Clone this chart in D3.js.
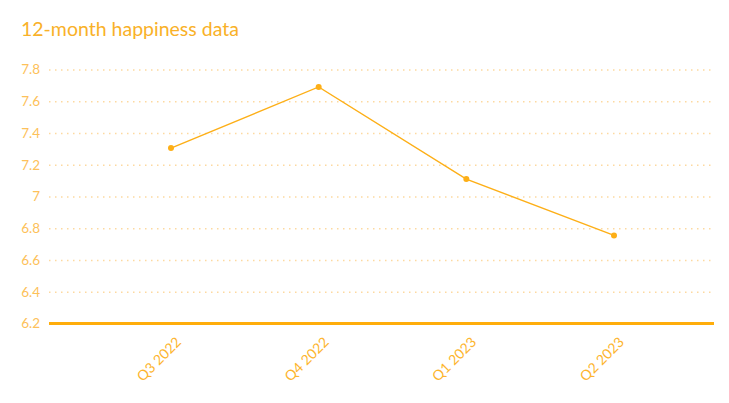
<!DOCTYPE html>
<html><head><meta charset="utf-8">
<script src="https://cdn.jsdelivr.net/npm/d3@7/dist/d3.min.js"></script>
<style>body{margin:0;background:#fff;} text{font-family:Lato,"Open Sans",sans-serif;}</style>
</head><body><div id="chart"></div>
<script>
const categories = ["Q3 2022","Q4 2022","Q1 2023","Q2 2023"];
const values = [7.305, 7.69, 7.11, 6.755];
const yTicks = [6.2,6.4,6.6,6.8,7,7.2,7.4,7.6,7.8];
const title = "12-month happiness data";

const W = 729, H = 403;
const svg = d3.select("#chart").append("svg").attr("width", W).attr("height", H);
const plotL = 49, plotR = 715;
const y = d3.scaleLinear().domain([6.2, 7.8]).range([323.5, 69.5]);
const x = d3.scalePoint().domain(categories).range([171, 614]);

svg.append("text").attr("x", 21).attr("y", 36).attr("fill", "#F9B128")
  .attr("font-size", 19.5).text(title);

const yAxis = svg.append("g").attr("transform", `translate(${plotL},0)`)
  .call(d3.axisLeft(y).tickValues(yTicks).tickSize(-(plotR - plotL)).tickFormat(d3.format("~g")).tickPadding(9));
yAxis.select(".domain").remove();
yAxis.selectAll(".tick line").attr("stroke", "#FDD9A0").attr("stroke-dasharray", "1.5,4.5").attr("stroke-width", 1.5);
yAxis.selectAll(".tick text").attr("fill", "#FDC15A").attr("font-size", 13.5);
yAxis.selectAll(".tick").filter(d => d === 6.2).select("line").remove();

svg.append("line").attr("x1", 49).attr("x2", 714).attr("y1", y(6.2)).attr("y2", y(6.2))
  .attr("stroke", "#FFAD0A").attr("stroke-width", 3);

const xAxis = svg.append("g").attr("transform", `translate(0,${y(6.2)})`)
  .call(d3.axisBottom(x).tickSize(0).tickPadding(0));
xAxis.select(".domain").remove();
xAxis.selectAll(".tick text").attr("fill", "#FDB52E").attr("font-size", 14)
  .attr("text-anchor", "end").attr("dy", "0.35em").attr("y", 0)
  .attr("transform", "translate(7,16) rotate(-45)");

svg.append("path").datum(values)
  .attr("fill", "none").attr("stroke", "#FDAF17").attr("stroke-width", 1.4)
  .attr("d", d3.line().x((d, i) => x(categories[i])).y(d => y(d)));
svg.selectAll("circle.pt").data(values).join("circle").attr("class", "pt")
  .attr("cx", (d, i) => x(categories[i])).attr("cy", d => y(d)).attr("r", 3)
  .attr("fill", "#FDAF17");
</script></body></html>
